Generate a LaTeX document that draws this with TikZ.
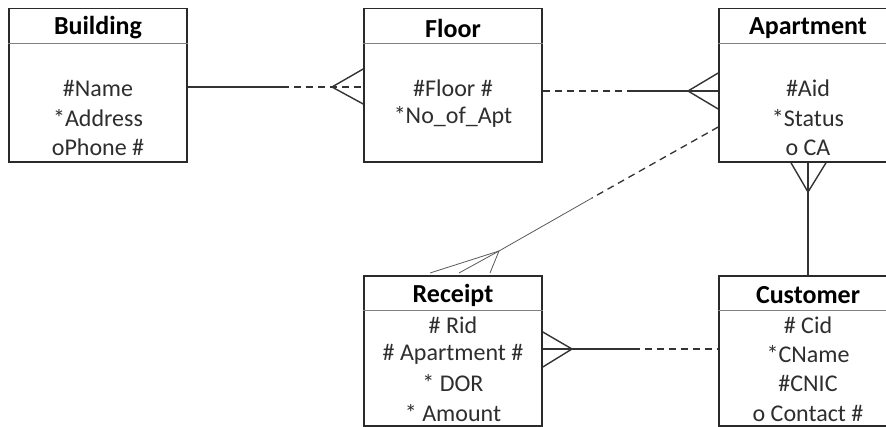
\documentclass[tikz,border=0pt]{standalone}
\usepackage{fontspec}
\setmainfont{Carlito}
\usetikzlibrary{calc}
\definecolor{boxc}{HTML}{2A2A2A}
\definecolor{sepc}{HTML}{808080}
\definecolor{linec}{HTML}{333333}
\definecolor{thinc}{HTML}{5A5A5A}
\definecolor{txtc}{HTML}{2E2E2E}
\tikzset{
  ent/.style={draw=boxc, line width=1.6pt, minimum width=178pt, inner sep=0pt},
  topent/.style={ent, minimum height=153.5pt},
  botent/.style={ent, minimum height=150pt},
  sep/.style={draw=sepc, line width=0.9pt},
  ttl/.style={font=\fontsize{26}{29}\selectfont\bfseries, text=black, inner sep=0pt},
  attr/.style={font=\fontsize{24}{27}\selectfont, text=txtc, inner sep=0pt},
  conn/.style={draw=linec, line width=1.4pt},
  dsh/.style={conn, dash pattern=on 7pt off 5pt},
  thin/.style={draw=thinc, line width=0.8pt}
}
\begin{document}
\begin{tikzpicture}[x=1pt,y=-1pt]
\useasboundingbox (0,0) rectangle (886,427);
\fill[white] (0,0) rectangle (886,427);
\begin{scope}
\clip (0,0) rectangle (886,427);
% entities
\node[topent] (bld) at (98,85.25) {};
\node[topent] (flr) at (453,85.25) {};
\node[topent] (apt) at (808,85.25) {};
\node[botent] (rcp) at (453,351) {};
\node[botent] (cst) at (808,351) {};
% header separators
\draw[sep] (bld.west |- 0,43) -- (bld.east |- 0,43);
\draw[sep] (flr.west |- 0,43) -- (flr.east |- 0,43);
\draw[sep] (apt.west |- 0,43) -- (apt.east |- 0,43);
\draw[sep] (rcp.west |- 0,310) -- (rcp.east |- 0,310);
\draw[sep] (cst.west |- 0,310) -- (cst.east |- 0,310);
% titles
\node[ttl] (tb) at (98,28) {Building};
\node[ttl] (tf) at (453,28) {Floor};
\node[ttl] (ta) at (808,28) {Apartment};
\node[ttl] (tr) at (453,295) {Receipt};
\node[ttl] (tc) at (808,295) {Customer};
% attributes
\node[attr] (b1) at (98,88) {\#Name};
\node[attr] (b2) at (98,118) {*Address};
\node[attr] (b3) at (98,147) {oPhone \#};
\node[attr] (f1) at (453,88) {\#Floor \#};
\node[attr] (f2) at (453,117) {*No\_of\_Apt};
\node[attr] (a1) at (808,88) {\#Aid};
\node[attr] (a2) at (808,118) {*Status};
\node[attr] (a3) at (808,148) {o CA};
\node[attr] (r1) at (453,325) {\# Rid};
\node[attr] (r2) at (453,354) {\# Apartment \#};
\node[attr] (r3) at (453,383) {* DOR};
\node[attr] (r4) at (453,413) {* Amount};
\node[attr] (c1) at (808,325) {\# Cid};
\node[attr] (c2) at (808,354) {*CName};
\node[attr] (c3) at (808,383) {\#CNIC};
\node[attr] (c4) at (808,413) {o Contact \#};
% Building -- Floor
\coordinate (m1) at (282,87);
\coordinate (cf1) at (332,87);
\draw[conn] (bld.east |- m1) -- (m1);
\draw[dsh] (m1) -- (flr.west |- m1);
\draw[conn] (flr.west |- 0,69) -- (cf1) -- (flr.west |- 0,104);
% Floor -- Apartment
\coordinate (m2) at (627,91);
\coordinate (cf2) at (688,91);
\draw[dsh] (flr.east |- m2) -- (m2);
\draw[conn] (m2) -- (apt.west |- m2);
\draw[conn] (apt.west |- 0,73) -- (cf2) -- (apt.west |- 0,109);
% Apartment -- Customer
\coordinate (cf3) at (808,192);
\draw[conn] (apt.south) -- (cst.north);
\draw[conn] (apt.south -| 791,0) -- (cf3) -- (apt.south -| 826,0);
% Receipt -- Customer
\coordinate (m4) at (633,349);
\coordinate (cf4) at (572,349);
\draw[conn] (rcp.east |- m4) -- (m4);
\draw[dsh] (m4) -- (cst.west |- m4);
\draw[conn] (rcp.east |- 0,332) -- (cf4) -- (rcp.east |- 0,367);
% Apartment -- Receipt
\coordinate (m5) at (592,198);
\coordinate (cf5) at (499,251);
\coordinate (p1) at (430,273);
\coordinate (p2) at (459,273);
\coordinate (p3) at (490,273);
\draw[dsh, line width=1.3pt] (apt.west |- 0,127) -- (m5);
\draw[thin] (m5) -- (cf5);
\draw[thin] (p1) -- (cf5) -- (p3);
\draw[thin] (p2) -- (cf5);
\end{scope}
\end{tikzpicture}
\end{document}
